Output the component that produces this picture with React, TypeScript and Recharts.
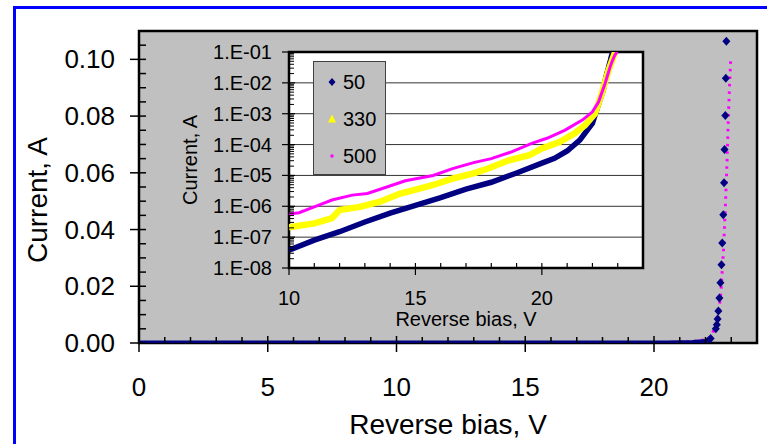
import { LineChart, Line, Scatter, XAxis, YAxis, CartesianGrid, ReferenceArea, Legend } from 'recharts';

// Reverse bias sweeps (V) and measured current (A) for the three samples
const bias50 = [0, 10, 11, 12, 13, 14, 15, 16, 17, 18, 19, 20, 20.5, 21, 21.5, 22, 22.2, 22.4, 22.44, 22.47, 22.5, 22.54, 22.58, 22.62, 22.65, 22.69, 22.72, 22.74, 22.77, 22.79, 22.81];
const current50 = [0, 3.8e-8, 8e-8, 1.5e-7, 3.1e-7, 6e-7, 1.07e-6, 1.9e-6, 3.6e-6, 6e-6, 1.2e-5, 2.5e-5, 3.6e-5, 6.2e-5, 1.4e-4, 4.9e-4, 1.6e-3, 5e-3, 0.0064, 0.0085, 0.0113, 0.0159, 0.0212, 0.0276, 0.0353, 0.0452, 0.0565, 0.0682, 0.0802, 0.0933, 0.1064];

const bias330 = [10, 11, 11.7, 12, 12.8, 13.6, 14.4, 14.9, 15.7, 16.5, 17.3, 17.9, 18.7, 19.5, 20, 20.7, 21.3, 21.7, 22.1, 22.37, 22.64, 22.9];
const current330 = [2.1e-7, 2.8e-7, 4.1e-7, 7.5e-7, 9.6e-7, 1.4e-6, 2.6e-6, 3.3e-6, 4.9e-6, 8e-6, 1.16e-5, 1.7e-5, 3.1e-5, 4.5e-5, 7.5e-5, 1.2e-4, 2.3e-4, 4.2e-4, 1e-3, 4.5e-3, 0.026, 0.1];

const bias500 = [0, 10, 10.4, 11, 11.7, 12.5, 13.1, 13.9, 14.6, 15.7, 16.5, 17.3, 18, 18.8, 19.6, 20.2, 20.9, 21.6, 22, 22.24, 22.5, 22.6, 22.7, 22.78, 22.84, 22.89, 22.94, 22.98];
const current500 = [0, 5.6e-7, 6.2e-7, 9.6e-7, 1.6e-6, 2.3e-6, 2.6e-6, 4.3e-6, 6.7e-6, 1e-5, 1.7e-5, 2.6e-5, 3.5e-5, 5.8e-5, 1.1e-4, 1.6e-4, 2.9e-4, 6.2e-4, 1.15e-3, 2.4e-3, 9.5e-3, 0.018, 0.033, 0.05, 0.065, 0.08, 0.092, 0.1004];

const sampleOrder = ['50', '330', '500'];

// axis ticks
const mainXTicks = [0, 1, 2, 3, 4, 5, 6, 7, 8, 9, 10, 11, 12, 13, 14, 15, 16, 17, 18, 19, 20, 21, 22, 23, 24];
const mainXLabels = [0, 5, 10, 15, 20];
const mainYTicks = [0, 0.005, 0.01, 0.015, 0.02, 0.025, 0.03, 0.035, 0.04, 0.045, 0.05, 0.055, 0.06, 0.065, 0.07, 0.075, 0.08, 0.085, 0.09, 0.095, 0.1, 0.105, 0.11];
const mainYLabels = [0, 0.02, 0.04, 0.06, 0.08, 0.1];
const insetXTicks = [10, 11, 12, 13, 14, 15, 16, 17, 18, 19, 20, 21, 22, 23, 24];
const insetXLabels = [10, 15, 20];
const decades = [1e-8, 1e-7, 1e-6, 1e-5, 1e-4, 1e-3, 1e-2, 1e-1];
const decadeLabels = ['1.E-08', '1.E-07', '1.E-06', '1.E-05', '1.E-04', '1.E-03', '1.E-02', '1.E-01'];
const minorSteps = [2, 3, 4, 5, 6, 7, 8, 9];

type Pt = { v: number; i: number };
const toPoints = (v: number[], i: number[]): Pt[] => v.map((x, k) => ({ v: x, i: i[k] }));
const s50 = toPoints(bias50, current50);
const s330 = toPoints(bias330, current330);
const s500 = toPoints(bias500, current500);
const onLog = (pts: Pt[]) => pts.filter(p => p.v >= 10 && p.i > 0);

// on the linear plot the 50 sample is a heavy band along zero, then single markers
const s50Band = s50.filter(p => p.i < 0.002);
const s50Marks = s50.filter(p => p.i >= 0.001);

const insetYTicks = [
  ...decades,
  ...decades.slice(0, -1).flatMap(d => minorSteps.map(m => d * m)),
].sort((a, b) => a - b);

const FONT = '"Liberation Sans", Arial, sans-serif';
const NAVY = '#000080';
const YELLOW = '#ffff00';
const MAGENTA = '#ff00ff';

function MainXTick({ x, y, payload }: any) {
  const v = payload.value;
  if (mainXLabels.includes(v)) {
    return (
      <g>
        <line x1={x} x2={x} y1={y - 7} y2={y + 9} stroke="#000" strokeWidth={1.5} />
        <text x={x} y={y + 53} textAnchor="middle" fontSize={26} fontFamily={FONT} fill="#000">{v}</text>
      </g>
    );
  }
  return <line x1={x} x2={x} y1={y - 6} y2={y} stroke="#000" strokeWidth={1.5} />;
}

function MainYTick({ x, y, payload }: any) {
  const v = payload.value;
  if (mainYLabels.includes(v)) {
    return (
      <g>
        <line x1={x - 9} x2={x + 7} y1={y} y2={y} stroke="#000" strokeWidth={1.5} />
        <text x={x - 24} y={y + 9} textAnchor="end" fontSize={26} fontFamily={FONT} fill="#000">{v.toFixed(2)}</text>
      </g>
    );
  }
  return <line x1={x} x2={x + 7} y1={y} y2={y} stroke="#000" strokeWidth={1.5} />;
}

function InsetXTick({ x, y, payload }: any) {
  const v = payload.value;
  if (insetXLabels.includes(v)) {
    return (
      <g>
        <line x1={x} x2={x} y1={y - 5} y2={y + 7} stroke="#000" strokeWidth={1.2} />
        <text x={x} y={y + 37} textAnchor="middle" fontSize={20} fontFamily={FONT} fill="#000">{v}</text>
      </g>
    );
  }
  return <line x1={x} x2={x} y1={y - 5} y2={y} stroke="#000" strokeWidth={1.2} />;
}

function InsetYTick({ x, y, payload }: any) {
  const k = decades.indexOf(payload.value);
  if (k >= 0) {
    return (
      <g>
        <line x1={x - 7} x2={x + 6} y1={y} y2={y} stroke="#000" strokeWidth={1.2} />
        <text x={x - 17} y={y + 7} textAnchor="end" fontSize={20} fontFamily={FONT} fill="#000">{decadeLabels[k]}</text>
      </g>
    );
  }
  return <line x1={x} x2={x + 5} y1={y} y2={y} stroke="#000" strokeWidth={1} />;
}

function Diamond({ cx, cy }: any) {
  return <path d={`M${cx},${cy - 4.5}L${cx + 4},${cy}L${cx},${cy + 4.5}L${cx - 4},${cy}Z`} fill={NAVY} />;
}

function LegendMarker({ name }: { name: string }) {
  if (name === '50') return <path d="M9,6L12.5,10L9,14L5.5,10Z" fill={NAVY} />;
  if (name === '330') return <path d="M9,5.5L13,13.5L5,13.5Z" fill={YELLOW} />;
  return <rect x={7.5} y={8.5} width={3} height={3} fill={MAGENTA} />;
}

function SampleLegend({ payload }: any) {
  const items = [...(payload || [])].sort(
    (a: any, b: any) => sampleOrder.indexOf(String(a.value)) - sampleOrder.indexOf(String(b.value)),
  );
  return (
    <div style={{ position: 'relative', width: 73, height: 114, background: '#c0c0c0', border: '1px solid #404040', boxSizing: 'border-box', fontFamily: FONT }}>
      {items.map((p: any, idx: number) => (
        <div key={p.value} style={{ position: 'absolute', left: 9, top: 10 + idx * 37, height: 20, display: 'flex', alignItems: 'center' }}>
          <svg width={20} height={20}><LegendMarker name={String(p.value)} /></svg>
          <span style={{ fontSize: 20, color: '#000' }}>{p.value}</span>
        </div>
      ))}
    </div>
  );
}

const title = (left: number, top: number, size: number, rotate = false): React.CSSProperties => ({
  position: 'absolute',
  left,
  top,
  fontSize: size,
  lineHeight: 1,
  fontFamily: FONT,
  whiteSpace: 'nowrap',
  color: '#000',
  transform: `translate(-50%, -50%)${rotate ? ' rotate(-90deg)' : ''}`,
});

export default function App() {
  return (
    <div style={{ position: 'absolute', left: 0, top: 0, width: 767, height: 444, overflow: 'hidden', background: '#fff' }}>
      <div style={{ position: 'absolute', left: 13, top: 6, width: 900, height: 600, border: '3px solid #0000ff', boxSizing: 'border-box' }} />

      <div style={{ position: 'absolute', left: 0, top: 0 }}>
        <LineChart width={767} height={444} margin={{ top: 31, right: 10, bottom: 71, left: 79 }}>
          <CartesianGrid horizontal={false} vertical={false} fill="#c0c0c0" fillOpacity={1} />
          <XAxis dataKey="v" type="number" domain={[0, 24]} ticks={mainXTicks} interval={0} height={30}
            tickSize={0} tickMargin={0} tick={<MainXTick />} tickLine={false} axisLine={false} allowDataOverflow />
          <YAxis type="number" domain={[0, 0.11]} ticks={mainYTicks} interval={0} width={60}
            tickSize={0} tickMargin={0} tick={<MainYTick />} tickLine={false} axisLine={false} allowDataOverflow />
          <ReferenceArea x1={0} x2={24} y1={0} y2={0.11} fill="none" stroke="#000" strokeWidth={2.5} />
          <Line data={s500} dataKey="i" name="500" stroke={MAGENTA} strokeWidth={3} strokeDasharray="2.5 5"
            dot={false} isAnimationActive={false} />
          <Line data={s50Band} dataKey="i" name="50" stroke={NAVY} strokeWidth={5} dot={false}
            isAnimationActive={false} />
          <Scatter data={s50Marks} dataKey="i" name="50" fill={NAVY} shape={<Diamond />} isAnimationActive={false} />
        </LineChart>
      </div>
      <div style={title(448, 425, 28)}>Reverse bias, V</div>
      <div style={title(38, 200, 28, true)}>Current, A</div>

      <div style={{ position: 'absolute', left: 170, top: 40 }}>
        <LineChart width={480} height={290} margin={{ top: 12, right: 7, bottom: 32, left: 59 }}>
          <CartesianGrid vertical={false} horizontalValues={decades} fill="#fff" fillOpacity={1} stroke="#333" strokeDasharray="" />
          <XAxis dataKey="v" type="number" domain={[10, 24]} ticks={insetXTicks} interval={0} height={30}
            tickSize={0} tickMargin={0} tick={<InsetXTick />} tickLine={false} axisLine={false} allowDataOverflow />
          <YAxis type="number" scale="log" domain={[1e-8, 1e-1]} ticks={insetYTicks} interval={0} width={60}
            tickSize={0} tickMargin={0} tick={<InsetYTick />} tickLine={false} axisLine={false} allowDataOverflow />
          <ReferenceArea x1={10} x2={24} y1={1e-8} y2={1e-1} fill="none" stroke="#000" strokeWidth={2.5} />
          <Line data={onLog(s50)} dataKey="i" name="50" stroke={NAVY} strokeWidth={5.5} dot={false} isAnimationActive={false} />
          <Line data={onLog(s330)} dataKey="i" name="330" stroke={YELLOW} strokeWidth={6.5} dot={false} isAnimationActive={false} />
          <Line data={onLog(s500)} dataKey="i" name="500" stroke={MAGENTA} strokeWidth={3} dot={false} isAnimationActive={false} />
          <Legend layout="vertical" align="center" verticalAlign="middle" content={<SampleLegend />}
            wrapperStyle={{ left: 143, top: 21, width: 73, height: 114 }} />
        </LineChart>
      </div>
      <div style={title(466, 319, 20)}>Reverse bias, V</div>
      <div style={title(190, 160, 20, true)}>Current, A</div>
    </div>
  );
}
